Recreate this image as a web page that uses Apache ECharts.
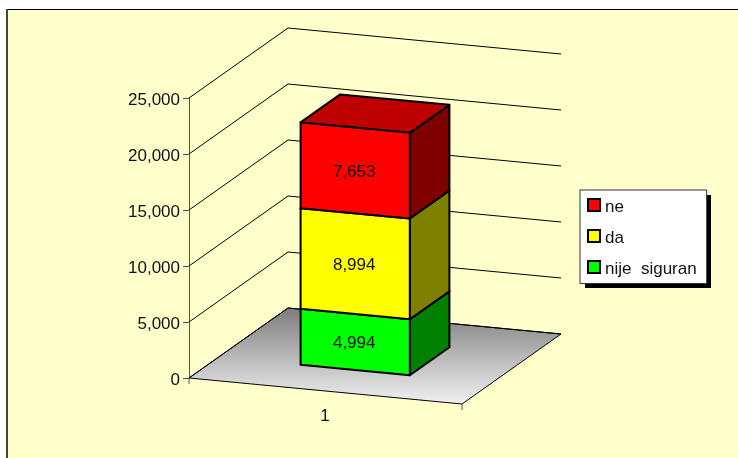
<!DOCTYPE html>
<html>
<head>
<meta charset="utf-8">
<style>html,body{margin:0;padding:0;background:#fff}#chart{width:738px;height:458px}</style>
<script src="https://cdn.jsdelivr.net/npm/echarts@6/dist/echarts.min.js"></script>
</head>
<body>
<div id="chart"></div>
<script>
const categories = ['1'];
const seriesNames = ['nije siguran', 'da', 'ne'];
const nijeSiguran = [4994];
const da = [8994];
const ne = [7653];
const tickValues = [0, 5000, 10000, 15000, 20000, 25000];

const frontColors = ['#00ff00', '#ffff00', '#ff0000'];
const sideColors = ['#008000', '#808000', '#800000'];
const topColors = ['#00bf00', '#bfbf00', '#bf0000'];

// oblique projection of the floor: width and depth vectors in px
const WIDTH_VEC = [273, 26];
const DEPTH_VEC = [99, -70];
const FONT = '"Liberation Sans", Arial, sans-serif';

function project(api, u, d, value) {
    const p = api.coord([0, value]);
    const left = p[0] - api.size([1, 0])[0] / 2;
    return [
        left + u * WIDTH_VEC[0] + d * DEPTH_VEC[0],
        p[1] + u * WIDTH_VEC[1] + d * DEPTH_VEC[1]
    ];
}

function renderWalls(params, api) {
    const v = api.value(0);
    const a = project(api, 0, 0, v);
    const b = project(api, 0, 1, v);
    const c = project(api, 1, 1, v);
    const style = { fill: 'none', stroke: '#000', lineWidth: 1 };
    const children = [{
        type: 'polyline',
        shape: { points: [a, b, c] },
        style
    }];
    if (v === 0) {
        // floor and the sloping category axis
        const e = project(api, 1, 0, 0);
        children.unshift({
            type: 'polygon',
            shape: { points: [a, b, c, e] },
            style: {
                fill: new echarts.graphic.LinearGradient(0, 0, 0, 1, [
                    { offset: 0, color: '#7c7c7c' },
                    { offset: 1, color: '#f2f2f2' }
                ]),
                stroke: '#000',
                lineWidth: 1
            }
        });
        children.push({ type: 'line', shape: { x1: a[0], y1: a[1], x2: a[0], y2: a[1] + 6 }, style: { stroke: '#555', lineWidth: 1 } });
        children.push({ type: 'line', shape: { x1: e[0], y1: e[1], x2: e[0], y2: e[1] + 6 }, style: { stroke: '#555', lineWidth: 1 } });
    }
    return { type: 'group', children };
}

function renderSegment(idx) {
    return function (params, api) {
        const lo = api.value(1);
        const hi = api.value(2);
        const u0 = 0.3, u1 = 0.7, d0 = 0.3, d1 = 0.7;
        const edge = { stroke: '#000', lineWidth: 2, lineJoin: 'round' };
        const poly = (pts, fill) => ({
            type: 'polygon',
            shape: { points: pts },
            style: Object.assign({ fill }, edge)
        });
        const centre = project(api, (u0 + u1) / 2, d0, (lo + hi) / 2);
        return {
            type: 'group',
            children: [
                poly([project(api, u1, d0, lo), project(api, u1, d1, lo), project(api, u1, d1, hi), project(api, u1, d0, hi)], sideColors[idx]),
                poly([project(api, u0, d0, hi), project(api, u1, d0, hi), project(api, u1, d1, hi), project(api, u0, d1, hi)], topColors[idx]),
                poly([project(api, u0, d0, lo), project(api, u1, d0, lo), project(api, u1, d0, hi), project(api, u0, d0, hi)], frontColors[idx]),
                {
                    type: 'text',
                    x: centre[0] - 1,
                    y: centre[1] + 1.5,
                    style: {
                        text: (hi - lo).toLocaleString('en-US'),
                        align: 'center',
                        verticalAlign: 'middle',
                        fontFamily: FONT,
                        fontSize: 17,
                        fill: '#111'
                    }
                }
            ]
        };
    };
}

const stackValues = [nijeSiguran, da, ne];
let running = 0;
const segmentSeries = seriesNames.map(function (name, i) {
    const lo = running;
    running += stackValues[i][0];
    return {
        type: 'custom',
        name,
        coordinateSystem: 'cartesian2d',
        itemStyle: { color: frontColors[i] },
        encode: { x: 0, y: [1, 2] },
        data: [[0, lo, running]],
        renderItem: renderSegment(i),
        z: 5 + i
    };
});

const chart = echarts.init(document.getElementById('chart'), null, { renderer: 'canvas' });
chart.setOption({
    animation: false,
    backgroundColor: '#fff',
    graphic: [{
        type: 'rect',
        z: -10,
        shape: { x: 6, y: 9, width: 760, height: 480 },
        style: { fill: '#ffffcc' }
    }, {
        type: 'rect',
        z: -9,
        shape: { x: 6, y: 9, width: 760, height: 1 },
        style: { fill: '#000' }
    }, {
        type: 'rect',
        z: -9,
        shape: { x: 6, y: 9, width: 2, height: 480 },
        style: { fill: '#444' }
    }, {
        // legend drop shadow
        type: 'rect',
        z: -1,
        shape: { x: 585, y: 195, width: 126, height: 93 },
        style: { fill: '#000' }
    }],
    grid: { left: 189, top: 98, width: 272, height: 280 },
    xAxis: {
        type: 'category',
        data: categories,
        axisLine: { show: false },
        axisTick: { show: false },
        axisLabel: { margin: 30, color: '#111', fontFamily: FONT, fontSize: 17 }
    },
    yAxis: {
        type: 'value',
        min: 0,
        max: 25000,
        interval: 5000,
        splitLine: { show: false },
        axisLine: { show: true, lineStyle: { color: '#555', width: 1 } },
        axisTick: { show: true, length: 6, lineStyle: { color: '#555', width: 1 } },
        axisLabel: {
            margin: 9,
            color: '#111',
            fontFamily: FONT,
            fontSize: 17,
            formatter: v => '{a|' + v.toLocaleString('en-US') + '}',
            rich: { a: { fontFamily: FONT, fontSize: 17, color: '#111', padding: [4, 0, 0, 0] } }
        }
    },
    legend: {
        orient: 'vertical',
        left: 580,
        top: 190,
        padding: [5, 10, 6, 7],
        itemWidth: 12,
        itemHeight: 12,
        itemGap: 10.5,
        backgroundColor: '#fff',
        borderColor: '#333',
        borderWidth: 1,
        selectedMode: false,
        formatter: name => '{a|' + name.replace(' ', '  ') + '}',
        textStyle: {
            fontFamily: FONT,
            fontSize: 17,
            color: '#111',
            rich: { a: { fontFamily: FONT, fontSize: 17, color: '#111', padding: [4, 0, 0, 0], height: 16, lineHeight: 16 } }
        },
        data: ['ne', 'da', 'nije siguran'].map((name, i) => ({
            name,
            icon: 'rect',
            itemStyle: { color: frontColors[2 - i], borderColor: '#000', borderWidth: 2 }
        }))
    },
    series: [{
        type: 'custom',
        name: 'walls',
        coordinateSystem: 'cartesian2d',
        encode: { y: 0 },
        data: tickValues.map(v => [v]),
        renderItem: renderWalls,
        z: 1
    }].concat(segmentSeries)
});
</script>
</body>
</html>
